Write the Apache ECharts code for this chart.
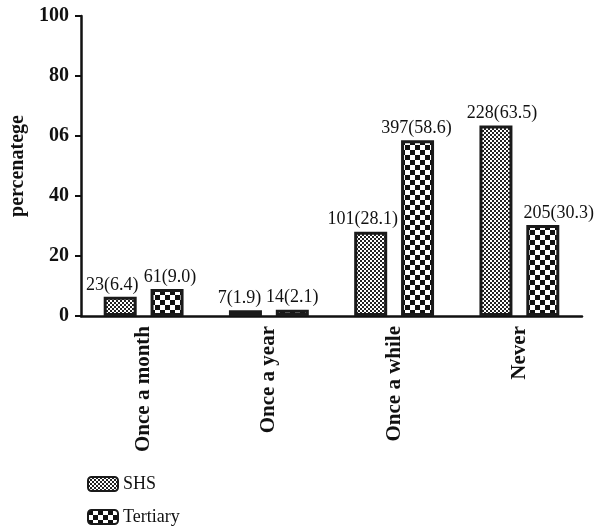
<!DOCTYPE html>
<html><head><meta charset="utf-8">
<script src="https://cdn.jsdelivr.net/npm/echarts@6/dist/echarts.min.js"></script>
<style>html,body{margin:0;padding:0;background:#fff}#c{width:596px;height:531px}</style>
</head><body><div id="c"></div>
<script>
var categories = ['Once a month', 'Once a year', 'Once a while', 'Never'];
var shsValues = [6.4, 1.9, 28.1, 63.5];
var shsCounts = [23, 7, 101, 228];
var tertiaryValues = [9.0, 2.1, 58.6, 30.3];
var tertiaryCounts = [61, 14, 397, 205];
var yTickLabels = {0: '0', 20: '20', 40: '40', 60: '06', 80: '80', 100: '100'};

// label horizontal nudges (layout only, px)
var shsLabelShift = [-8, -6, -8, 6];
var tertiaryLabelShift = [3, 0, -1, 16];

function checker(cell, fg) {
  var c = document.createElement('canvas');
  c.width = cell * 2; c.height = cell * 2;
  var g = c.getContext('2d');
  g.fillStyle = '#fff'; g.fillRect(0, 0, c.width, c.height);
  g.fillStyle = fg;
  g.fillRect(0, 0, cell, cell);
  g.fillRect(cell, cell, cell, cell);
  return c;
}
var fineP = {image: checker(2, '#222'), repeat: 'repeat'};
var coarseP = {image: checker(5, '#111'), repeat: 'repeat'};
var serif = '"Liberation Serif", "DejaVu Serif", serif';

function buildData(values, counts, shifts) {
  return values.map(function (v, i) {
    return {value: v, label: {offset: [shifts[i], 0],
      formatter: counts[i] + '(' + v.toFixed(1) + ')'}};
  });
}
var legendText = {fontFamily: serif, fontSize: 18, color: '#111'};
var labelStyle = {show: true, position: 'top', distance: 3, fontFamily: serif, fontSize: 18, color: '#111'};

var chart = echarts.init(document.getElementById('c'));
chart.setOption({
  animation: false,
  backgroundColor: '#fff',
  textStyle: {fontFamily: serif},
  grid: {left: 81, right: 14, top: 16, bottom: 215},
  legend: [
    {left: 82, top: 470, itemWidth: 30, itemHeight: 14, textStyle: legendText, data: ['SHS']},
    {left: 82, top: 503, itemWidth: 30, itemHeight: 14, textStyle: legendText, data: ['Tertiary']}
  ],
  xAxis: {
    type: 'category', data: categories,
    axisLine: {lineStyle: {color: '#111', width: 2.5}},
    axisTick: {alignWithLabel: true, length: 5, lineStyle: {color: '#111', width: 1.5}},
    axisLabel: {rotate: 90, fontFamily: serif, fontWeight: 'bold', fontSize: 21, color: '#111', margin: 10, interval: 0}
  },
  yAxis: {
    type: 'value', min: 0, max: 100, interval: 20,
    name: 'percenatege', nameLocation: 'middle', nameGap: 52,
    nameTextStyle: {fontFamily: serif, fontWeight: 'bold', fontSize: 20, color: '#111'},
    axisLine: {show: true, lineStyle: {color: '#111', width: 2.5}},
    axisTick: {show: true, length: 6, lineStyle: {color: '#111', width: 2}},
    splitLine: {show: false},
    axisLabel: {fontFamily: serif, fontWeight: 'bold', fontSize: 20, color: '#111', margin: 12,
      formatter: function (v) { return yTickLabels[v]; }}
  },
  series: [
    {
      name: 'SHS', type: 'bar', data: buildData(shsValues, shsCounts, shsLabelShift), barWidth: 33, barGap: '42%',
      itemStyle: {color: fineP, borderColor: '#1a1a1a', borderWidth: 3},
      label: labelStyle
    },
    {
      name: 'Tertiary', type: 'bar', data: buildData(tertiaryValues, tertiaryCounts, tertiaryLabelShift), barWidth: 33,
      itemStyle: {color: coarseP, borderColor: '#1a1a1a', borderWidth: 3},
      label: labelStyle
    }
  ]
});
</script></body></html>
